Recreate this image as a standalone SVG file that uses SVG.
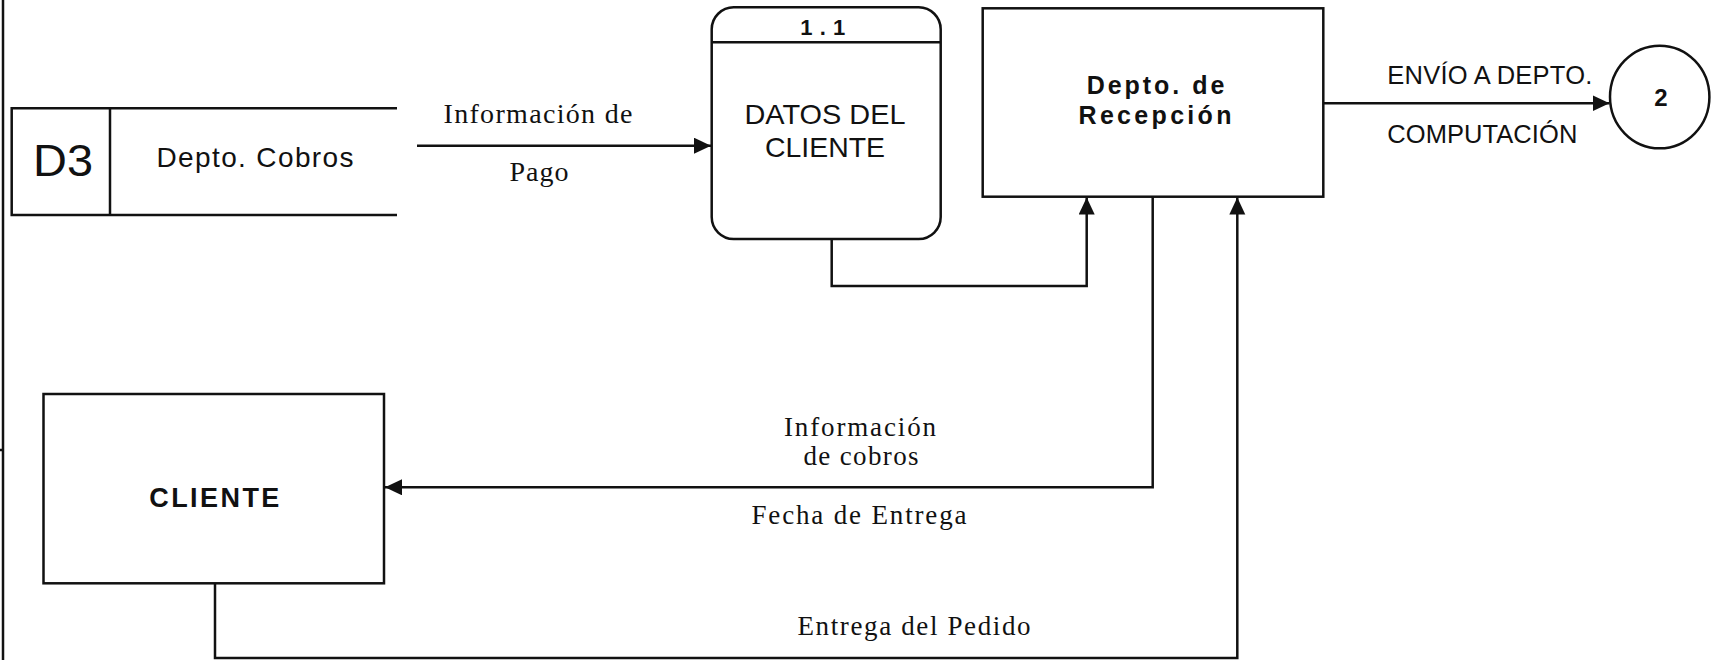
<svg xmlns="http://www.w3.org/2000/svg" width="1716" height="660" viewBox="0 0 1716 660">
<style>
.box{fill:#fff;stroke:#111;stroke-width:2.5}
.ln{fill:none;stroke:#111;stroke-width:2.5}
.sans{font-family:"Liberation Sans",Arial,sans-serif;fill:#111}
.serif{font-family:"Liberation Serif","Times New Roman",serif;fill:#111}
.b{font-weight:bold}
.m{text-anchor:middle}
</style>
<defs>
<marker id="arr" markerUnits="userSpaceOnUse" markerWidth="18" markerHeight="17" refX="17" refY="8" orient="auto">
<path d="M0,0 L17,8 L0,16 z" fill="#111"/>
</marker>
</defs>
<rect x="0" y="0" width="1716" height="660" fill="#fff"/>
<line x1="3" y1="0" x2="3" y2="660" class="ln" stroke-width="2"/>
<line x1="0" y1="450" x2="4" y2="450" class="ln" stroke-width="1.5"/>

<g id="d3">
<path class="ln" d="M397,108.3 L11.7,108.3 L11.7,215 L397,215"/>
<line class="ln" x1="110" y1="108.3" x2="110" y2="215"/>
<text class="sans m" x="63" y="176" font-size="44" textLength="60" lengthAdjust="spacingAndGlyphs">D3</text>
<text class="sans m" x="255" y="167.3" font-size="28" textLength="197" lengthAdjust="spacing">Depto. Cobros</text>
</g>

<g id="datos">
<rect class="box" x="711.7" y="7.3" width="229" height="231.7" rx="22" ry="22"/>
<line class="ln" x1="711.7" y1="42.3" x2="940.7" y2="42.3"/>
<text class="sans b m" x="822.7" y="35" font-size="22" textLength="45" lengthAdjust="spacing">1.1</text>
<text class="sans m" x="825" y="124.3" font-size="28" textLength="161" lengthAdjust="spacingAndGlyphs">DATOS DEL</text>
<text class="sans m" x="825" y="156.7" font-size="28" textLength="120" lengthAdjust="spacingAndGlyphs">CLIENTE</text>
</g>

<g id="recepcion">
<rect class="box" x="982.7" y="8.3" width="340.6" height="188.4"/>
<text class="sans b m" x="1155.5" y="94" font-size="25" textLength="137.6" lengthAdjust="spacing">Depto. de</text>
<text class="sans b m" x="1155" y="123.5" font-size="25" textLength="153" lengthAdjust="spacing">Recepción</text>
</g>

<g id="proceso2">
<ellipse cx="1659.7" cy="97" rx="49.7" ry="51.3" fill="#fff" stroke="#111" stroke-width="2.5"/>
<text class="sans b m" x="1661" y="106" font-size="24">2</text>
</g>

<g id="cliente">
<rect class="box" x="43.5" y="394" width="340.5" height="189.3"/>
<text class="sans b m" x="214.3" y="507.3" font-size="27" textLength="130" lengthAdjust="spacing">CLIENTE</text>
</g>

<g id="connectors">
<line class="ln" x1="417" y1="145.7" x2="711" y2="145.7" marker-end="url(#arr)"/>
<path class="ln" d="M831.7,239 L831.7,286 L1086.7,286 L1086.7,197.5" marker-end="url(#arr)"/>
<line class="ln" x1="1323.3" y1="103.3" x2="1609.5" y2="103.3" marker-end="url(#arr)"/>
<path class="ln" d="M1152.7,196.7 L1152.7,487.3 L385,487.3" marker-end="url(#arr)"/>
<path class="ln" d="M215,583.3 L215,658 L1237.3,658 L1237.3,197.5" marker-end="url(#arr)"/>
</g>

<g id="labels">
<text class="serif m" x="538" y="122.7" font-size="28" textLength="189" lengthAdjust="spacing">Información de</text>
<text class="serif m" x="539" y="181" font-size="28" textLength="59" lengthAdjust="spacing">Pago</text>
<text class="sans" x="1387.3" y="84" font-size="25.5" textLength="205" lengthAdjust="spacing">ENVÍO A DEPTO.</text>
<text class="sans" x="1387.3" y="143.3" font-size="25.5" textLength="190" lengthAdjust="spacing">COMPUTACIÓN</text>
<text class="serif m" x="860" y="435.7" font-size="27" textLength="152" lengthAdjust="spacing">Información</text>
<text class="serif m" x="861" y="465" font-size="27" textLength="115" lengthAdjust="spacing">de cobros</text>
<text class="serif m" x="859" y="524" font-size="27" textLength="215" lengthAdjust="spacing">Fecha de Entrega</text>
<text class="serif m" x="914" y="635" font-size="27" textLength="233" lengthAdjust="spacing">Entrega del Pedido</text>
</g>
</svg>
